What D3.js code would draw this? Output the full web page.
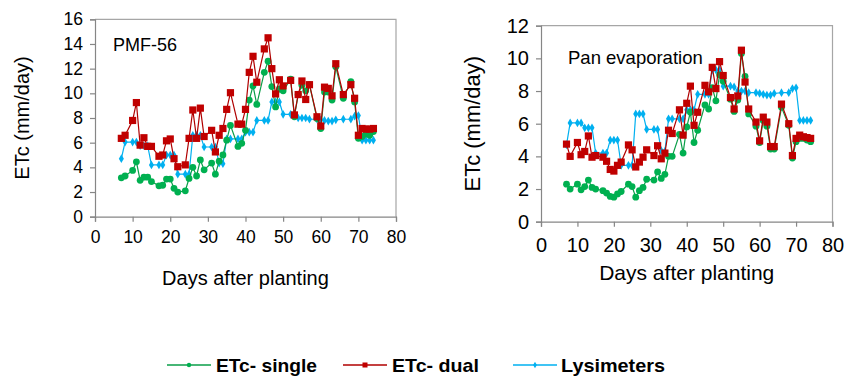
<!DOCTYPE html>
<html><head><meta charset="utf-8">
<script src="https://cdn.jsdelivr.net/npm/d3@7"></script>
<style>body{margin:0;background:#fff} svg text{font-family:"Liberation Sans",Arial,sans-serif;fill:#000}</style>
</head><body><svg id="c" width="856" height="379"></svg>
<script>
const days=[7,8,10,11,12,13,14,15,17,18,19,20,21,22,24,25,26,27,28,29,31,32,33,34,35,36,38,39,40,41,42,43,45,46,47,48,49,50,52,53,54,55,56,57,59,60,61,62,63,64,66,68,69,70,71,72,73,74];
const pmfSingle=[3.15,3.3,3.75,4.45,2.95,3.2,3.2,2.85,2.5,2.55,3.05,3.05,2.3,2.0,2.1,3.1,4.0,3.3,4.6,3.8,4.35,3.45,4.5,5.0,6.2,7.4,5.7,5.95,7.0,9.45,10.6,9.1,11.7,12.6,10.55,8.9,10.35,10.2,11.15,8.1,9.9,10.65,10.2,10.7,7.95,7.15,10.1,10.1,9.45,12.15,9.6,10.95,9.3,6.35,6.5,6.7,6.6,6.9];
const pmfDual=[6.35,6.6,7.8,9.25,5.8,6.4,5.7,5.7,4.9,5.0,6.15,6.3,4.7,4.05,4.2,6.35,8.65,6.35,8.8,6.5,7.0,5.25,6.6,7.15,8.7,10.05,7.5,7.5,8.7,11.7,13.0,10.9,13.6,14.5,12.0,9.95,11.1,10.6,11.05,8.25,9.9,11.0,9.5,10.7,8.1,7.35,10.5,10.4,9.8,12.4,9.9,10.7,9.6,6.6,7.15,7.1,7.1,7.15];
const lysimeters=[4.7,6.05,6.05,6.05,5.75,5.75,5.75,4.2,4.2,4.2,5.0,5.0,5.0,3.45,3.45,3.45,6.6,6.6,6.6,5.65,5.65,5.65,4.35,4.3,6.3,6.3,6.3,6.3,6.85,6.85,6.85,7.8,7.8,7.8,9.3,9.3,9.3,8.3,8.3,8.25,8.0,8.0,8.0,7.9,7.9,7.85,7.8,7.75,7.75,7.85,7.9,7.9,8.15,8.2,6.2,6.2,6.2,6.2];
const panSingle=[2.3,2.0,2.3,1.95,2.15,2.55,2.1,2.0,1.9,1.75,1.55,1.5,1.7,1.85,2.3,2.15,1.5,1.9,2.1,2.6,2.55,3.05,2.65,2.9,4.0,4.0,5.35,4.2,5.8,6.7,4.85,5.6,7.15,6.9,8.2,7.4,9.0,8.6,7.5,6.75,7.45,10.3,8.9,6.6,5.85,4.85,6.2,5.85,4.45,4.45,7.0,5.9,3.9,4.9,5.1,5.1,5.0,4.9];
const panDual=[4.75,4.0,4.85,4.1,4.3,5.25,3.95,4.05,3.95,3.7,3.2,3.1,3.45,3.65,4.7,4.4,3.35,3.65,3.95,4.4,4.05,4.65,3.85,4.2,5.6,5.4,6.85,5.3,7.25,8.3,5.9,6.7,8.35,7.95,9.45,8.15,9.8,8.95,7.6,6.9,7.7,10.5,8.55,6.9,6.1,4.95,6.4,6.1,4.6,4.6,7.2,6.0,4.05,5.1,5.3,5.2,5.15,5.1];
const xTicks=[0,10,20,30,40,50,60,70,80];
const pmfYTicks=[0,2,4,6,8,10,12,14,16];
const panYTicks=[0,2,4,6,8,10,12];
const panelLabels=["PMF-56","Pan evaporation"];
const yTitle="ETc (mm/day)";
const xTitle="Days after planting";
const legendLabels=["ETc- single","ETc- dual","Lysimeters"];

const svg=d3.select("#c");
const COL={single:"#00B050",singleLine:"#0a9e48",dual:"#C00000",dualLine:"#b00000",lys:"#00B0F0"};

function drawPanel(o){
  const x=d3.scaleLinear().domain([0,80]).range([o.x0,o.x1]);
  const y=d3.scaleLinear().domain([0,o.ymax]).range([o.y0,o.y1]);
  const g=svg.append("g");
  g.append("path").attr("d",`M${o.x0},${o.y1}H${o.x1}V${o.y0}`).attr("fill","none").attr("stroke","#a6a6a6").attr("stroke-width",1.2);
  const ax=g.append("g").attr("transform",`translate(0,${o.y0})`).call(d3.axisBottom(x).tickValues(xTicks).tickSize(5).tickPadding(o.xpad));
  const ay=g.append("g").attr("transform",`translate(${o.x0},0)`).call(d3.axisLeft(y).tickValues(o.yTicks).tickSize(5).tickPadding(o.ypad));
  [ax,ay].forEach(a=>{a.selectAll("path,line").attr("stroke","#868686").attr("stroke-width",1.2);
    a.selectAll("text").attr("font-size",o.fs).attr("font-family","Liberation Sans, Arial, sans-serif").attr("fill","#000");});
  const pts=(vals)=>days.map((d,i)=>[d,vals[i]]);
  const line=d3.line().x(d=>x(d[0])).y(d=>y(d[1]));
  g.append("path").attr("d",line(pts(lysimeters))).attr("fill","none").attr("stroke",COL.lys).attr("stroke-width",1.2);
  g.selectAll(".lys").data(pts(lysimeters)).join("path").attr("d",d3.symbol(d3.symbolDiamond,22)())
    .attr("transform",d=>`translate(${x(d[0])},${y(d[1])})`).attr("fill",COL.lys);
  g.append("path").attr("d",line(pts(o.single))).attr("fill","none").attr("stroke",COL.singleLine).attr("stroke-width",1.2);
  g.selectAll(".sg").data(pts(o.single)).join("circle").attr("cx",d=>x(d[0])).attr("cy",d=>y(d[1])).attr("r",3.4).attr("fill",COL.single);
  g.append("path").attr("d",line(pts(o.dual))).attr("fill","none").attr("stroke",COL.dualLine).attr("stroke-width",1.2);
  g.selectAll(".du").data(pts(o.dual)).join("rect").attr("x",d=>x(d[0])-3.6).attr("y",d=>y(d[1])-3.6).attr("width",7.2).attr("height",7.2).attr("fill",COL.dual);
  g.append("text").attr("x",o.lx).attr("y",o.ly).attr("font-size",o.lfs).text(o.label);
  g.append("text").attr("transform",`translate(${o.ytx},${(o.y0+o.y1)/2}) rotate(-90)`).attr("text-anchor","middle").attr("font-size",o.tfs).text(yTitle);
  g.append("text").attr("x",(o.x0+o.x1)/2).attr("y",o.xty).attr("text-anchor","middle").attr("font-size",o.xtfs).text(xTitle);
}
drawPanel({x0:95,x1:396,y0:216.7,y1:19.3,ymax:16,yTicks:pmfYTicks,single:pmfSingle,dual:pmfDual,fs:17.5,xpad:9,ypad:7,label:panelLabels[0],lx:113,ly:51,lfs:18,ytx:29,tfs:20,xtfs:20,xty:285});
drawPanel({x0:541,x1:832.5,y0:221.7,y1:25.7,ymax:12,yTicks:panYTicks,single:panSingle,dual:panDual,fs:20,xpad:11,ypad:7,label:panelLabels[1],lx:568,ly:64,lfs:18.5,ytx:480,tfs:22,xtfs:21,xty:280});

const leg=svg.append("g");
const items=[{c:COL.single,lc:COL.singleLine,t:"c",x:167,tx:216,w:101},{c:COL.dual,lc:COL.dualLine,t:"s",x:343,tx:392,w:87},{c:COL.lys,lc:COL.lys,t:"d",x:513,tx:561,w:104}];
items.forEach((it,i)=>{
  const yy=365;
  leg.append("line").attr("x1",it.x).attr("x2",it.x+44).attr("y1",yy).attr("y2",yy).attr("stroke",it.lc).attr("stroke-width",1.5);
  const cx=it.x+22;
  if(it.t==="c") leg.append("circle").attr("cx",cx).attr("cy",yy).attr("r",2.2).attr("fill",it.c);
  else if(it.t==="s") leg.append("rect").attr("x",cx-2.5).attr("y",yy-2.5).attr("width",5).attr("height",5).attr("fill",it.c);
  else leg.append("path").attr("d",d3.symbol(d3.symbolDiamond,12)()).attr("transform",`translate(${cx},${yy})`).attr("fill",it.c);
  leg.append("text").attr("x",it.tx).attr("y",yy+6.5).attr("font-size",19).attr("font-weight","bold").attr("font-family","Lato, 'Open Sans', sans-serif")
    .attr("textLength",it.w).attr("lengthAdjust","spacingAndGlyphs").text(legendLabels[i]);
});
</script></body></html>
